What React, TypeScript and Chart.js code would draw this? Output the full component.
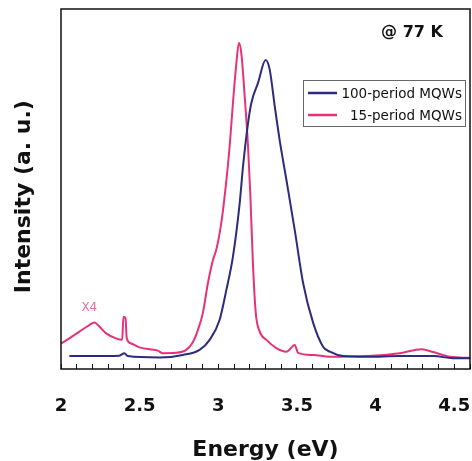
import React, { useEffect, useRef } from "react";
import { Chart, registerables } from "chart.js";

Chart.register(...registerables);

// ---- data ----
const seriesLabels = ["100-period MQWs", "15-period MQWs"];

const blueEnergy = [2.053, 2.201, 2.371, 2.403, 2.424, 2.626, 2.775, 2.881, 2.945, 3.008, 3.051, 3.093, 3.136, 3.157, 3.189, 3.21, 3.252, 3.301, 3.327, 3.359, 3.39, 3.433, 3.486, 3.539, 3.603, 3.666, 3.709, 3.794, 3.943, 4.155, 4.37, 4.49, 4.6];
const blueIntensity = [0.036, 0.036, 0.037, 0.044, 0.036, 0.032, 0.039, 0.053, 0.081, 0.136, 0.219, 0.312, 0.461, 0.562, 0.683, 0.739, 0.794, 0.858, 0.831, 0.729, 0.636, 0.525, 0.386, 0.239, 0.128, 0.062, 0.048, 0.036, 0.034, 0.036, 0.036, 0.03, 0.03];

const pinkEnergy = [2.0, 2.053, 2.117, 2.18, 2.212, 2.244, 2.287, 2.35, 2.389, 2.397, 2.41, 2.418, 2.446, 2.499, 2.562, 2.615, 2.647, 2.732, 2.796, 2.835, 2.87, 2.902, 2.934, 2.966, 2.987, 3.019, 3.04, 3.072, 3.093, 3.115, 3.131, 3.146, 3.168, 3.189, 3.204, 3.22, 3.238, 3.263, 3.306, 3.369, 3.433, 3.486, 3.507, 3.603, 3.709, 3.943, 4.155, 4.293, 4.367, 4.473, 4.6];
const pinkIntensity = [0.071, 0.085, 0.104, 0.122, 0.129, 0.118, 0.099, 0.085, 0.081, 0.145, 0.141, 0.085, 0.071, 0.06, 0.055, 0.051, 0.044, 0.045, 0.053, 0.072, 0.108, 0.156, 0.239, 0.303, 0.331, 0.406, 0.479, 0.618, 0.739, 0.85, 0.906, 0.878, 0.756, 0.618, 0.479, 0.294, 0.156, 0.104, 0.081, 0.058, 0.048, 0.067, 0.045, 0.039, 0.034, 0.036, 0.044, 0.055, 0.047, 0.034, 0.031];

const xMin = 2;
const xMax = 4.6;
const xStep = 0.1;
const annotationTemp = "@ 77 K";
const annotationScale = "X4";
const xTitle = "Energy (eV)";
const yTitle = "Intensity (a. u.)";

const BLUE = "#2c2b7e";
const PINK = "#e6327a";

const toPoints = (xs: number[], ys: number[]) => xs.map((x, i) => ({ x, y: ys[i] }));

const decorPlugin = {
  id: "decor",
  afterDraw(chart: any) {
    const { ctx, chartArea } = chart;
    const { left, top, right, bottom } = chartArea;
    ctx.save();
    // frame
    ctx.strokeStyle = "#111";
    ctx.lineWidth = 1.5;
    ctx.strokeRect(left, top, right - left, bottom - top);

    // temperature label
    ctx.fillStyle = "#111";
    ctx.font = "bold 16px 'DejaVu Sans'";
    ctx.textAlign = "center";
    ctx.textBaseline = "middle";
    ctx.fillText(annotationTemp, right - 58, top + 24);

    // X4 label
    const xs = chart.scales.x;
    const ys = chart.scales.y;
    ctx.fillStyle = "#e86f9f";
    ctx.font = "12px 'DejaVu Sans'";
    ctx.fillText(annotationScale, xs.getPixelForValue(2.18), ys.getPixelForValue(0.17));

    // legend
    const bx = right - 167;
    const by = top + 71;
    const bw = 162;
    const bh = 46;
    ctx.strokeStyle = "#666";
    ctx.lineWidth = 1;
    ctx.strokeRect(bx + 0.5, by + 0.5, bw, bh);
    ctx.font = "13.5px 'DejaVu Sans'";
    ctx.textAlign = "right";
    chart.data.datasets.forEach((ds: any, i: number) => {
      const ly = by + 13 + i * 22;
      ctx.strokeStyle = ds.borderColor;
      ctx.lineWidth = 2.5;
      ctx.beginPath();
      ctx.moveTo(bx + 5, ly);
      ctx.lineTo(bx + 34, ly);
      ctx.stroke();
      ctx.fillStyle = "#111";
      ctx.fillText(ds.label, bx + bw - 3, ly + 1);
    });
    ctx.restore();
  },
};

export default function App() {
  const ref = useRef<HTMLCanvasElement | null>(null);
  useEffect(() => {
    if (!ref.current) return;
    const chart = new Chart(ref.current, {
      type: "line",
      data: {
        datasets: [
          {
            label: seriesLabels[0],
            data: toPoints(blueEnergy, blueIntensity),
            borderColor: BLUE,
            borderWidth: 2,
            pointRadius: 0,
            cubicInterpolationMode: "monotone",
            fill: false,
          },
          {
            label: seriesLabels[1],
            data: toPoints(pinkEnergy, pinkIntensity),
            borderColor: PINK,
            borderWidth: 2,
            pointRadius: 0,
            cubicInterpolationMode: "monotone",
            fill: false,
          },
        ],
      },
      options: {
        responsive: false,
        animation: false,
        layout: { padding: { top: 9, right: 2, left: 0, bottom: 0 } },
        plugins: { legend: { display: false }, tooltip: { enabled: false } },
        scales: {
          x: {
            type: "linear",
            min: xMin,
            max: xMax,
            afterFit: (s: any) => {
              s.height = 92;
              s.paddingLeft = 0;
              s.paddingRight = 0;
            },
            border: { display: false },
            grid: {
              display: true,
              drawOnChartArea: false,
              drawTicks: true,
              tickLength: -5,
              color: "#111",
              lineWidth: 1,
            },
            ticks: {
              stepSize: xStep,
              autoSkip: false,
              maxRotation: 0,
              padding: 32,
              color: "#111",
              font: { family: "'DejaVu Sans'", size: 18, weight: "bold" },
              callback: (v: any) => {
                const n = Number(v);
                return Math.abs(n * 2 - Math.round(n * 2)) < 1e-6 ? String(Math.round(n * 10) / 10) : "";
              },
            },
            title: {
              display: true,
              text: xTitle,
              color: "#111",
              padding: { top: 0, bottom: 0 },
              font: { family: "'DejaVu Sans'", size: 22, weight: "bold", lineHeight: 1 },
            },
          },
          y: {
            type: "linear",
            min: 0,
            max: 1,
            afterFit: (s: any) => {
              s.width = 61;
            },
            border: { display: false },
            grid: { display: false },
            ticks: { display: false },
            title: {
              display: true,
              text: yTitle + "  ",
              color: "#111",
              padding: { top: 11, bottom: 0 },
              font: { family: "'DejaVu Sans'", size: 22, weight: "bold", lineHeight: 1.2 },
            },
          },
        },
      },
      plugins: [decorPlugin],
    });
    return () => chart.destroy();
  }, []);
  return (
    <div style={{ position: "absolute", left: 0, top: 0, width: 472, height: 461, background: "#fff" }}>
      <canvas ref={ref} width={472} height={461} />
    </div>
  );
}
